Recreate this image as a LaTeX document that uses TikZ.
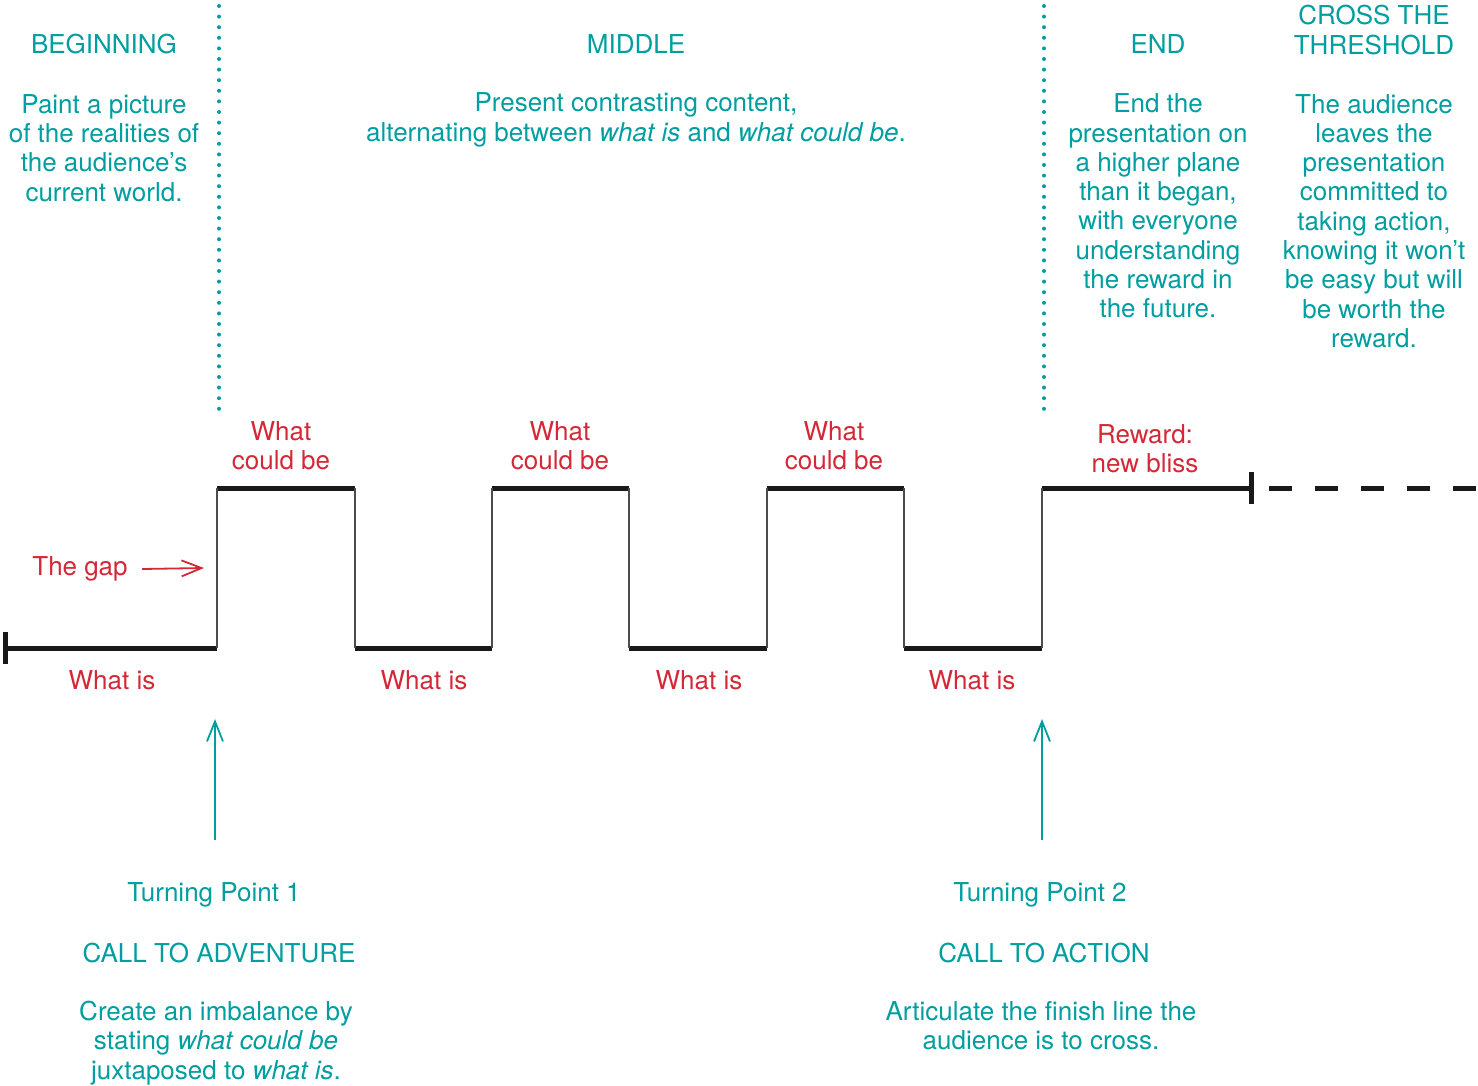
\documentclass[tikz,border=0pt]{standalone}
\usepackage{fontspec}
\setmainfont{TeX Gyre Heros}
\usetikzlibrary{arrows.meta}
\definecolor{teal1}{RGB}{0,158,160}
\definecolor{red1}{RGB}{213,40,55}
\begin{document}
\begin{tikzpicture}[x=0.5pt,y=-0.5pt,
  every node/.style={inner sep=0pt, align=center, font=\fontsize{13}{14.65}\selectfont},
  tl/.style={text=teal1},
  rd/.style={text=red1},
  hline/.style={line width=2.5pt, black!90},
  vline/.style={line width=0.6pt, black!70},
  tick/.style={line width=2.5pt, black!90},
  dotline/.style={teal1, line width=2pt, line cap=round, dash pattern=on 0pt off 5.3pt},
  tarrow/.style={teal1, line width=0.9pt, -{Straight Barb[length=10pt,width=8pt,line width=0.9pt]}},
  rarrow/.style={red1, line width=0.9pt, -{Straight Barb[length=10pt,width=8pt,line width=0.9pt]}}
]
\useasboundingbox (0,0) rectangle (1478,1086);

% step coordinates
\coordinate (p0) at (5,648);
\coordinate (p1) at (217,648);
\coordinate (p2) at (217,488);
\coordinate (p3) at (355,488);
\coordinate (p4) at (355,648);
\coordinate (p5) at (492,648);
\coordinate (p6) at (492,488);
\coordinate (p7) at (629,488);
\coordinate (p8) at (629,648);
\coordinate (p9) at (767,648);
\coordinate (p10) at (767,488);
\coordinate (p11) at (904,488);
\coordinate (p12) at (904,648);
\coordinate (p13) at (1042,648);
\coordinate (p14) at (1042,488);
\coordinate (p15) at (1251,488);
\coordinate (p16) at (1478,488);

% horizontal segments
\draw[hline] (p0) -- (p1);
\draw[hline] (p2) -- (p3);
\draw[hline] (p4) -- (p5);
\draw[hline] (p6) -- (p7);
\draw[hline] (p8) -- (p9);
\draw[hline] (p10) -- (p11);
\draw[hline] (p12) -- (p13);
\draw[hline] (p14) -- (p15);
% vertical segments
\draw[vline] (p1) -- (p2);
\draw[vline] (p3) -- (p4);
\draw[vline] (p5) -- (p6);
\draw[vline] (p7) -- (p8);
\draw[vline] (p9) -- (p10);
\draw[vline] (p11) -- (p12);
\draw[vline] (p13) -- (p14);
% end ticks
\draw[tick] ([yshift=-8pt]p0) -- ([yshift=8pt]p0);
\draw[tick] ([yshift=-8pt]p15) -- ([yshift=8pt]p15);
% dashed continuation
\draw[hline, dash pattern=on 11.5pt off 11.5pt] ([xshift=9pt]p15) -- (p16);

% dotted dividers
\coordinate (d1t) at (219,6);
\coordinate (d1b) at (219,410);
\coordinate (d2t) at (1044,6);
\coordinate (d2b) at (1044,410);
\draw[dotline] (d1t) -- (d1b);
\draw[dotline] (d2t) -- (d2b);

% headings
\node[tl] (beg) at (104,44) {BEGINNING};
\node[tl] (begt) at (104,148) {Paint a picture\\of the realities of\\the audience’s\\current world.};
\node[tl] (mid) at (636,44) {MIDDLE};
\node[tl] (midt) at (636,120) {Present contrasting content,\\alternating between \textit{what is} and \textit{what could be}.};
\node[tl] (endh) at (1158,44) {END};
\node[tl] (endt) at (1158,206) {End the\\presentation on\\a higher plane\\than it began,\\with everyone\\understanding\\the reward in\\the future.};
\node[tl] (cross) at (1374,30) {CROSS THE\\THRESHOLD};
\node[tl] (crosst) at (1374,221) {The audience\\leaves the\\presentation\\committed to\\taking action,\\knowing it won’t\\be easy but will\\be worth the\\reward.};

% red labels
\node[rd] (wcb1) at (281,446) {What\\could be};
\node[rd] (wcb2) at (560,446) {What\\could be};
\node[rd] (wcb3) at (834,446) {What\\could be};
\node[rd] (rew) at (1145,449) {Reward:\\new bliss};
\node[rd] (wi1) at (112,680) {What is};
\node[rd] (wi2) at (424,680) {What is};
\node[rd] (wi3) at (699,680) {What is};
\node[rd] (wi4) at (972,680) {What is};
\node[rd] (gap) at (80,569) {The gap};
\coordinate (gapend) at (204,568);
\draw[rarrow] (gap.east) ++(7pt,0) coordinate (gapstart) -- (gapend);

% turning points
\coordinate (a1s) at (215,840);
\coordinate (a1e) at (215,719);
\coordinate (a2s) at (1042,840);
\coordinate (a2e) at (1042,719);
\draw[tarrow] (a1s) -- (a1e);
\draw[tarrow] (a2s) -- (a2e);

\node[tl] (tp1) at (214,895) {Turning Point 1};
\node[tl] (cta1) at (219,953) {CALL TO ADVENTURE};
\node[tl] (tp1t) at (216,1043) {Create an imbalance by\\stating \textit{what could be}\\juxtaposed to \textit{what is}.};
\node[tl] (tp2) at (1040,895) {Turning Point 2};
\node[tl] (cta2) at (1044,953) {CALL TO ACTION};
\node[tl] (tp2t) at (1041,1026) {Articulate the finish line the\\audience is to cross.};
\end{tikzpicture}
\end{document}
